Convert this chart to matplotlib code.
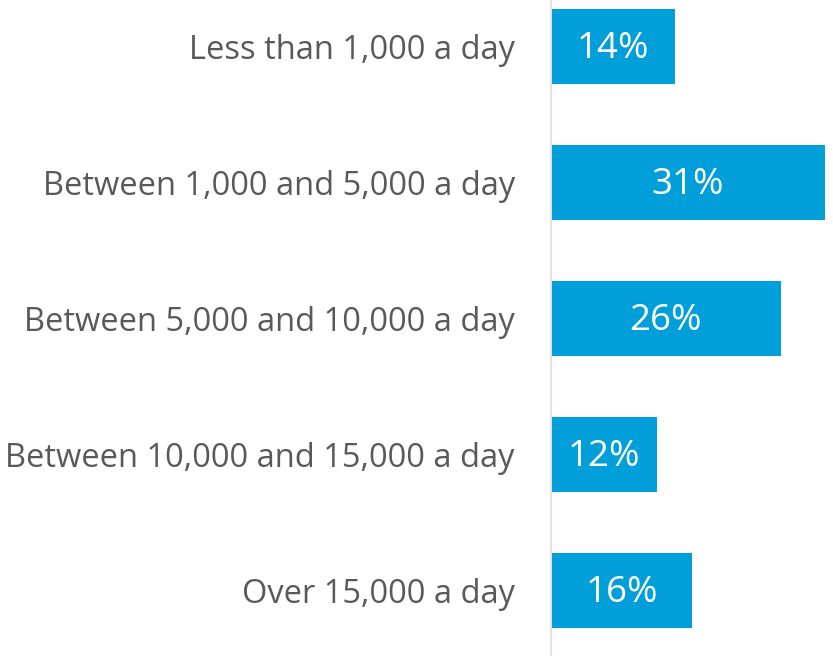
import matplotlib
matplotlib.use("Agg")
import matplotlib.pyplot as plt

categories = [
    "Less than 1,000 a day",
    "Between 1,000 and 5,000 a day",
    "Between 5,000 and 10,000 a day",
    "Between 10,000 and 15,000 a day",
    "Over 15,000 a day",
]
shares = [14, 31, 26, 12, 16]

bar_color = "#009FDA"
text_color = "#595959"
font = "Open Sans"

fig = plt.figure(figsize=(8.33, 6.56), dpi=100)
ax = fig.add_axes([551 / 833, 0.0, (825 - 551) / 833, 1.0])

pos = list(range(len(categories)))
ax.barh(pos, shares, height=0.55, color=bar_color, zorder=2)
ax.set_xlim(0, 31)
ax.set_ylim(len(categories) - 1 + 0.48, -0.342)

for y, v in zip(pos, shares):
    ax.text(v / 2, y + 0.02, f"{v}%", ha="center", va="center", color="white",
            fontsize=26.5, family=font, zorder=3)

ax.set_yticks(pos)
ax.set_yticklabels(categories, fontsize=23.5, family=font, color=text_color)
ax.tick_params(axis="y", length=0, pad=26)
ax.set_xticks([])

for s in ["top", "right", "bottom"]:
    ax.spines[s].set_visible(False)
ax.spines["left"].set_color("#E3E3E3")
ax.spines["left"].set_linewidth(1.5)

fig.savefig("out.png", dpi=100, facecolor="white")
